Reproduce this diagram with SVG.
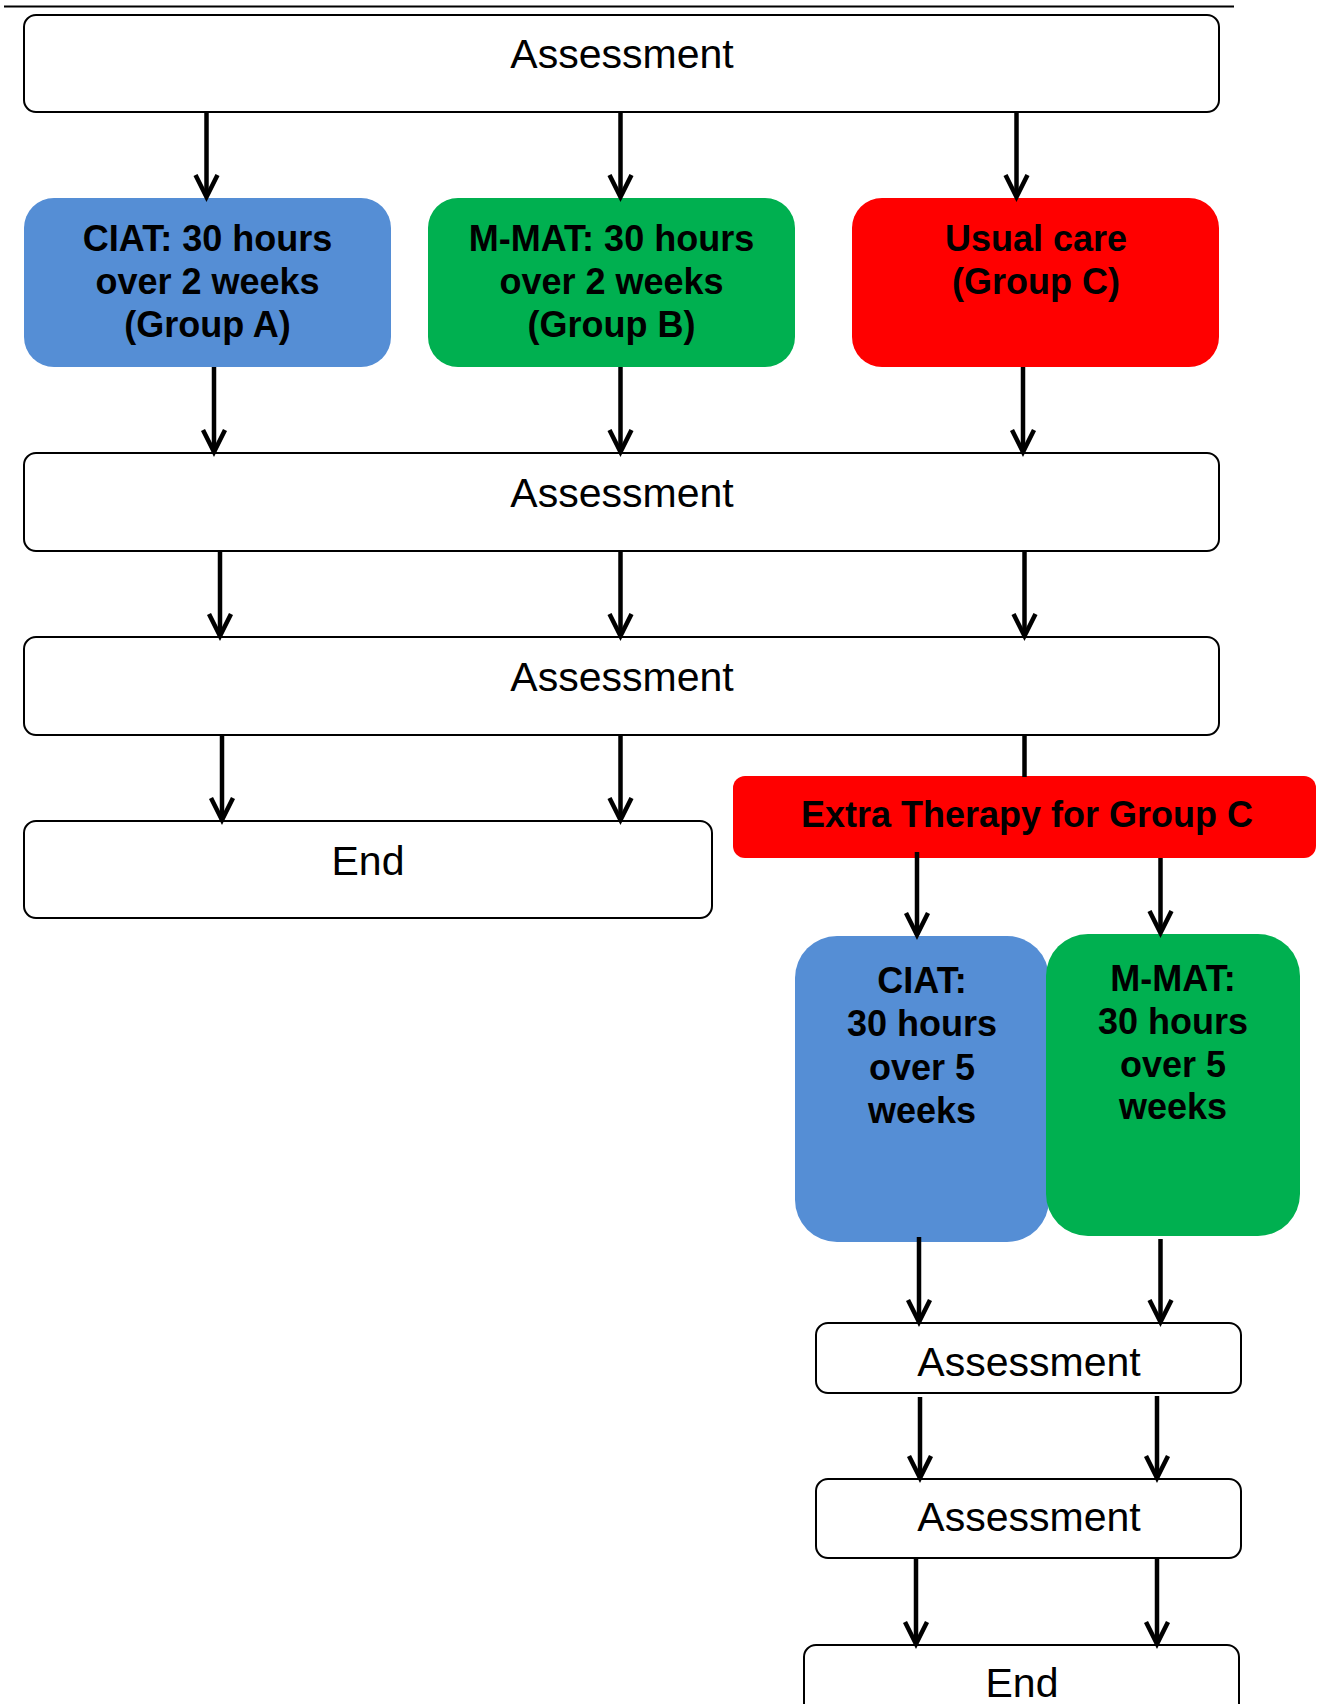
<svg xmlns="http://www.w3.org/2000/svg" width="1317" height="1704" viewBox="0 0 1317 1704">
<style>
.box{fill:#fff;stroke:#000;stroke-width:2}
.blue{fill:#558ED5}
.green{fill:#00B050}
.red{fill:#FF0000}
.t{font-family:"Liberation Sans",Arial,sans-serif;font-size:41px;fill:#000;text-anchor:middle}
.b{font-family:"Liberation Sans",Arial,sans-serif;font-size:36px;font-weight:bold;fill:#000;text-anchor:middle}
.c line{stroke:#000;stroke-width:4.5;marker-end:url(#ah)}
.c line.plain{marker-end:none}
</style>
<defs>
<marker id="ah" markerUnits="userSpaceOnUse" markerWidth="30" markerHeight="30" refX="23" refY="15" orient="auto">
<path d="M1,4 L23,15 L1,26" fill="none" stroke="#000" stroke-width="4.5"/>
</marker>
</defs>
<line x1="4" y1="6.5" x2="1234" y2="6.5" stroke="#000" stroke-width="2"/>

<g id="assess1"><rect class="box" x="24" y="15" width="1195" height="97" rx="12"/><text class="t" x="622" y="68">Assessment</text></g>
<g id="groupA"><rect class="blue" x="24" y="198" width="367" height="169" rx="30"/><text class="b" x="207.5" y="251">CIAT: 30 hours</text><text class="b" x="207.5" y="294">over 2 weeks</text><text class="b" x="207.5" y="337">(Group A)</text></g>
<g id="groupB"><rect class="green" x="428" y="198" width="367" height="169" rx="30"/><text class="b" x="611.5" y="251">M-MAT: 30 hours</text><text class="b" x="611.5" y="294">over 2 weeks</text><text class="b" x="611.5" y="337">(Group B)</text></g>
<g id="groupC"><rect class="red" x="852" y="198" width="367" height="169" rx="30"/><text class="b" x="1036" y="251">Usual care</text><text class="b" x="1036" y="294">(Group C)</text></g>
<g id="assess2"><rect class="box" x="24" y="453" width="1195" height="98" rx="12"/><text class="t" x="622" y="507">Assessment</text></g>
<g id="assess3"><rect class="box" x="24" y="637" width="1195" height="98" rx="12"/><text class="t" x="622" y="691">Assessment</text></g>
<g id="end1"><rect class="box" x="24" y="821" width="688" height="97" rx="12"/><text class="t" x="368" y="875">End</text></g>
<g id="extra"><rect class="red" x="733" y="776" width="583" height="82" rx="12"/><text class="b" x="1027" y="827">Extra Therapy for Group C</text></g>
<g id="ciat5"><rect class="blue" x="795" y="936" width="254" height="306" rx="42"/><text class="b" x="922" y="993">CIAT:</text><text class="b" x="922" y="1036">30 hours</text><text class="b" x="922" y="1080">over 5</text><text class="b" x="922" y="1123">weeks</text></g>
<g id="mmat5"><rect class="green" x="1046" y="934" width="254" height="302" rx="42"/><text class="b" x="1173" y="991">M-MAT:</text><text class="b" x="1173" y="1034">30 hours</text><text class="b" x="1173" y="1077">over 5</text><text class="b" x="1173" y="1119">weeks</text></g>
<g id="assess4"><rect class="box" x="816" y="1323" width="425" height="70" rx="12"/><text class="t" x="1029" y="1376">Assessment</text></g>
<g id="assess5"><rect class="box" x="816" y="1479" width="425" height="79" rx="12"/><text class="t" x="1029" y="1531">Assessment</text></g>
<g id="end2"><rect class="box" x="804" y="1645" width="435" height="80" rx="12"/><text class="t" x="1022" y="1697">End</text></g>

<g id="connectors" class="c">
<line x1="206.5" y1="112" x2="206.5" y2="197"/>
<line x1="620.5" y1="112" x2="620.5" y2="197"/>
<line x1="1016.5" y1="112" x2="1016.5" y2="197"/>
<line x1="214" y1="367" x2="214" y2="452"/>
<line x1="620.5" y1="367" x2="620.5" y2="452"/>
<line x1="1023" y1="367" x2="1023" y2="452"/>
<line x1="220" y1="551" x2="220" y2="636"/>
<line x1="620.5" y1="551" x2="620.5" y2="636"/>
<line x1="1024.5" y1="551" x2="1024.5" y2="636"/>
<line x1="222" y1="735" x2="222" y2="820"/>
<line x1="620.5" y1="735" x2="620.5" y2="820"/>
<line class="plain" x1="1024.5" y1="735" x2="1024.5" y2="777"/>
<line x1="917" y1="852" x2="917" y2="935"/>
<line x1="1160.5" y1="858" x2="1160.5" y2="933"/>
<line x1="919" y1="1237" x2="919" y2="1322"/>
<line x1="1160.5" y1="1239" x2="1160.5" y2="1322"/>
<line x1="920" y1="1397" x2="920" y2="1478"/>
<line x1="1157" y1="1396" x2="1157" y2="1478"/>
<line x1="916" y1="1558" x2="916" y2="1644"/>
<line x1="1157" y1="1558" x2="1157" y2="1644"/>
</g>
</svg>
